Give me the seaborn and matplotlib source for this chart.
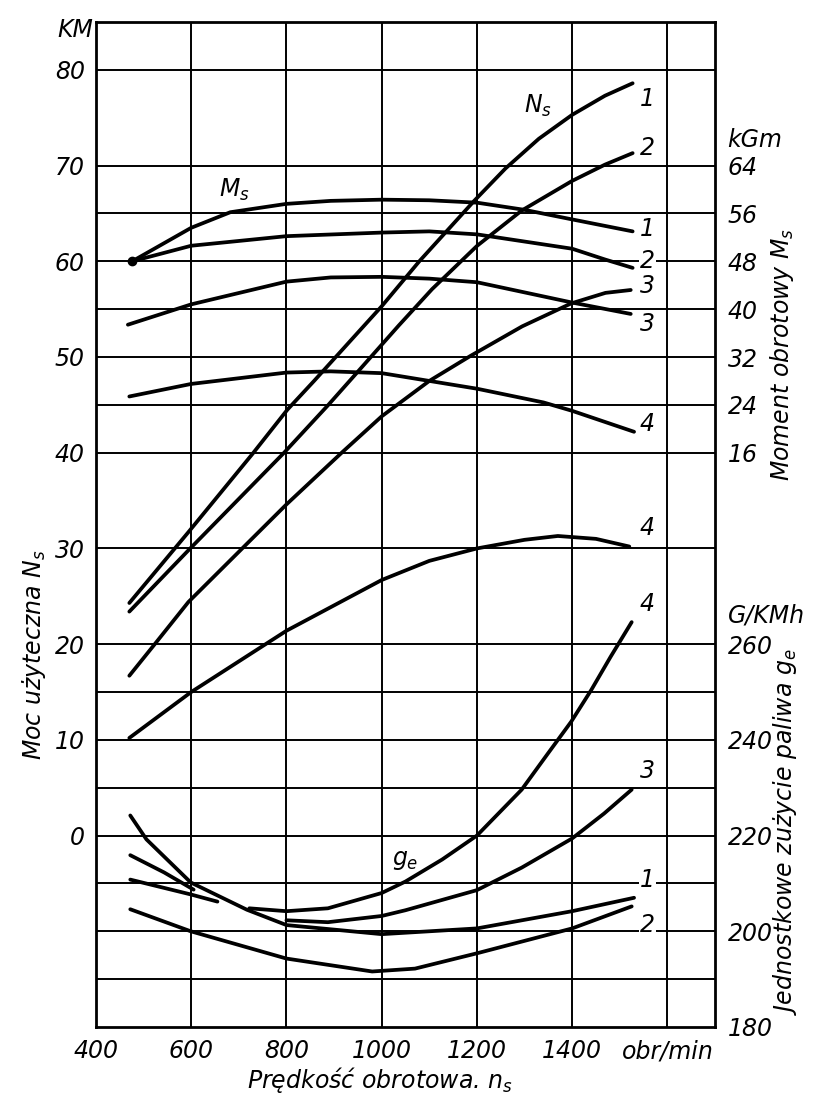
import matplotlib
matplotlib.use("Agg")
import matplotlib.pyplot as plt
import matplotlib.transforms as mtransforms
import seaborn as sns
import numpy as np
import pandas as pd

# engine speed [obr/min] and readings for the four engine settings 1..4

# useful power N_s [KM] (left axis)
ns1_rpm = [470, 594, 729, 802, 858, 1000, 1079, 1194, 1260, 1330, 1400, 1469, 1527]
ns1_km = [24.3, 31.7, 39.9, 44.5, 47.5, 55.3, 60.0, 66.3, 69.7, 72.8, 75.3, 77.3, 78.6]
ns2_rpm = [470, 594, 795, 888, 938, 1036, 1106, 1200, 1294, 1400, 1469, 1527]
ns2_km = [23.4, 29.8, 40.0, 45.0, 47.8, 53.3, 57.1, 61.6, 65.3, 68.4, 70.1, 71.3]
ns3_rpm = [470, 525, 594, 800, 916, 1000, 1100, 1186, 1295, 1398, 1470, 1523]
ns3_km = [16.7, 20.1, 24.4, 34.6, 40.0, 43.8, 47.5, 50.1, 53.2, 55.6, 56.7, 57.0]
ns4_rpm = [470, 600, 800, 1000, 1100, 1200, 1300, 1370, 1450, 1520]
ns4_km = [10.2, 15.0, 21.4, 26.7, 28.7, 30.0, 30.9, 31.3, 31.0, 30.2]

# torque M_s [kGm] (right axis, upper part)
ms1_rpm = [476, 600, 682, 800, 893, 1000, 1100, 1200, 1300, 1400, 1527]
ms1_kgm = [48.0, 53.6, 56.2, 57.6, 58.1, 58.3, 58.2, 57.8, 56.6, 55.0, 53.0]
ms2_rpm = [476, 600, 800, 1000, 1100, 1200, 1400, 1469, 1527]
ms2_kgm = [48.0, 50.6, 52.2, 52.8, 53.0, 52.5, 50.1, 48.3, 46.9]
ms3_rpm = [467, 600, 800, 893, 1000, 1100, 1200, 1400, 1523]
ms3_kgm = [37.4, 40.8, 44.6, 45.3, 45.4, 45.1, 44.5, 41.1, 39.2]
ms4_rpm = [470, 600, 800, 893, 1000, 1100, 1200, 1340, 1400, 1530]
ms4_kgm = [25.4, 27.5, 29.4, 29.6, 29.3, 28.0, 26.7, 24.4, 23.0, 19.5]

# specific fuel consumption g_e [G/KMh] (right axis, lower part)
ge1_rpm = [472, 506, 599, 717, 800, 1000, 1200, 1400, 1530]
ge1_g = [224.2, 219.2, 210.2, 204.5, 201.3, 199.4, 200.6, 204.2, 207.0]
ge2_rpm = [472, 599, 800, 980, 1070, 1200, 1400, 1525]
ge2_g = [204.6, 200.0, 194.3, 191.6, 192.2, 195.4, 200.6, 205.2]
ge3_rpm = [800, 887, 1000, 1050, 1200, 1294, 1400, 1467, 1525]
ge3_g = [202.3, 201.9, 203.2, 204.4, 208.6, 213.3, 219.4, 224.6, 229.6]
ge4_rpm = [722, 800, 887, 1000, 1050, 1127, 1200, 1294, 1348, 1398, 1440, 1481, 1525]
ge4_g = [204.8, 204.2, 204.8, 208.0, 210.4, 215.0, 220.0, 229.6, 237.0, 243.8, 250.4, 257.4, 264.6]
# short low-speed pieces
geb_rpm = [472, 543, 605]
geb_g = [215.9, 212.3, 208.7]
gec_rpm = [472, 599, 655]
gec_g = [210.8, 207.7, 206.2]

x_ticks = [400, 600, 800, 1000, 1200, 1400, 1600]
x_labels = ["400", "600", "800", "1000", "1200", "1400", "obr/min"]
km_ticks = [0, 10, 20, 30, 40, 50, 60, 70, 80]
km_minor = [-15, -10, -5, 5, 15, 45, 55, 65]
kgm_ticks = [16, 24, 32, 40, 48, 56, 64]
g_ticks = [180, 200, 220, 240, 260]

sns.set_style("white")
plt.rcParams["font.family"] = ["DejaVu Sans"]
plt.rcParams["font.style"] = "italic"
plt.rcParams["mathtext.fontset"] = "dejavusans"
for k in ["text.color", "xtick.color", "ytick.color", "axes.labelcolor"]:
    plt.rcParams[k] = "black"

fig = plt.figure(figsize=(8.21, 11.17), dpi=100)
ax = fig.add_axes([96 / 821, 1 - 1027 / 1117, 619 / 821, 1005 / 1117])
ax_m = ax.twinx()
ax_g = ax.twinx()

ax.set_xlim(400, 1700)
ax.set_ylim(-20, 85)
# torque and consumption scales are tied to the power grid
ax_m.set_ylim(1.6 * -20 - 48, 1.6 * 85 - 48)
ax_g.set_ylim(2 * -20 + 220, 2 * 85 + 220)

lw = 2.7
kw = dict(color="black", lw=lw, sort=False, estimator=None, solid_capstyle="round", solid_joinstyle="round")
for r, v in [(ns1_rpm, ns1_km), (ns2_rpm, ns2_km), (ns3_rpm, ns3_km), (ns4_rpm, ns4_km)]:
    sns.lineplot(x=r, y=v, ax=ax, **kw)
for r, v in [(ms1_rpm, ms1_kgm), (ms2_rpm, ms2_kgm), (ms3_rpm, ms3_kgm), (ms4_rpm, ms4_kgm)]:
    sns.lineplot(x=r, y=v, ax=ax_m, **kw)
ax_m.plot(ms1_rpm[0], ms1_kgm[0], "o", color="black", ms=6)
for r, v in [(ge1_rpm, ge1_g), (ge2_rpm, ge2_g), (ge3_rpm, ge3_g), (ge4_rpm, ge4_g),
             (geb_rpm, geb_g), (gec_rpm, gec_g)]:
    sns.lineplot(x=r, y=v, ax=ax_g, **kw)

# grid
ax.set_xticks(x_ticks)
ax.set_xticklabels(x_labels)
ax.set_yticks(km_ticks)
ax.set_yticks(km_minor, minor=True)
ax.grid(True, which="both", color="black", lw=1.4)
ax.tick_params(which="both", length=0, labelsize=17, pad=8)
ax.tick_params(axis="x", pad=9)
for s in ax.spines.values():
    s.set_color("black")
    s.set_linewidth(2.0)

ax_m.set_yticks(kgm_ticks)
ax_g.set_yticks(g_ticks)
for a in (ax_m, ax_g):
    a.grid(False)
    a.tick_params(length=0, labelsize=17, pad=9)
    for s in a.spines.values():
        s.set_visible(False)
    a.set_ylabel("")

fs = 17
shift = mtransforms.ScaledTranslation(9 / 72, 0, fig.dpi_scale_trans)
# units
ax.text(-0.034, 0.992, "KM", transform=ax.transAxes, ha="center", va="center", fontsize=fs)
ax_m.text(1700, 68.3, "kGm", ha="left", va="center", fontsize=fs, transform=ax_m.transData + shift)
ax_g.text(1700, 266, "G/KMh", ha="left", va="center", fontsize=fs, transform=ax_g.transData + shift)

# curve names
ax.text(690, 67.5, "$M_s$", fontsize=fs, ha="center", va="center")
ax.text(1328, 76.2, "$N_s$", fontsize=fs, ha="center", va="center")
ax.text(1050, -2.6, "$g_e$", fontsize=fs, ha="center", va="center")

# curve numbers
num_x = 1558
for y, t in [(77.0, "1"), (71.8, "2"), (63.4, "1"), (60.0, "2"), (57.4, "3"), (53.4, "3"),
             (43.0, "4"), (32.1, "4"), (24.2, "4"), (6.7, "3"), (-4.6, "1"), (-9.3, "2")]:
    ax.text(num_x, y, t, fontsize=fs, ha="center", va="center",
            bbox=dict(facecolor="white", edgecolor="none", pad=0.5))

# axis titles
fig.text(34 / 821, 1 - 655 / 1117, "Moc użyteczna $N_s$", rotation=90, ha="center", va="center", fontsize=fs)
fig.text(380 / 821, 1 - 1080 / 1117, "Prędkość obrotowa. $n_s$", ha="center", va="center", fontsize=fs)
fig.text(782 / 821, 1 - 355 / 1117, "Moment obrotowy $M_s$", rotation=90, ha="center", va="center", fontsize=fs)
fig.text(785 / 821, 1 - 832 / 1117, "Jednostkowe zużycie paliwa $g_e$", rotation=90, ha="center", va="center", fontsize=fs)

fig.savefig("out.png", dpi=100, facecolor="white")
